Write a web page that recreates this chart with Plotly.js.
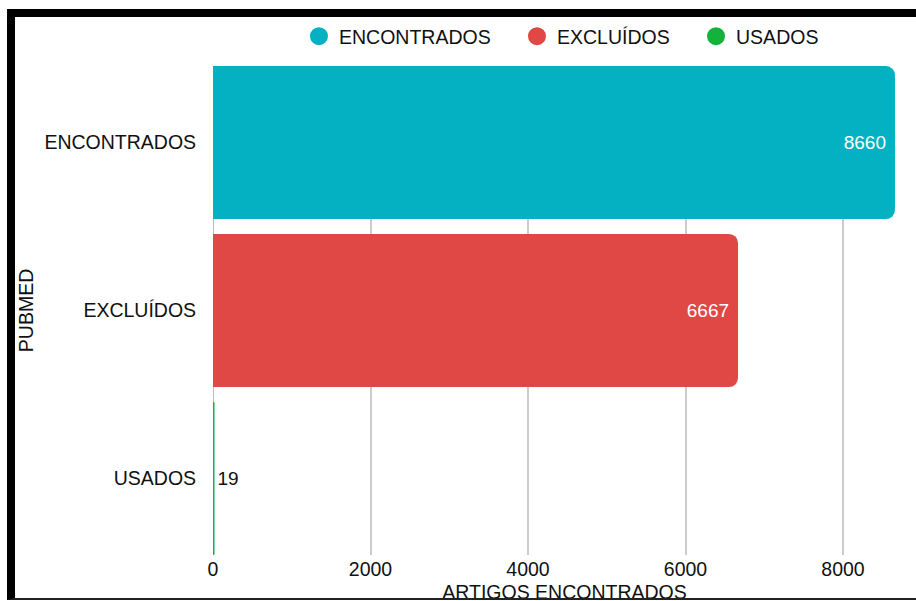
<!DOCTYPE html>
<html>
<head>
<meta charset="utf-8">
<script src="https://cdn.plot.ly/plotly-3.0.1.min.js"></script>
<style>
  html, body { margin: 0; padding: 0; background: #fff; width: 916px; height: 601px; overflow: hidden; }
  #frame {
    position: absolute; left: 7px; top: 9px; width: 909px; height: 591px;
    box-sizing: border-box; overflow: hidden; background: #fff;
    border-left: 8px solid #000; border-top: 8px solid #000; border-bottom: 2px solid #222;
  }
  #chart { width: 901px; height: 600px; }
</style>
</head>
<body>
<div id="frame"><div id="chart"></div></div>
<script>
// PubMed article counts by stage
const categories = ['ENCONTRADOS', 'EXCLUÍDOS', 'USADOS'];
const counts = [8660, 6667, 19];
const colors = ['#03b1c3', '#e04845', '#13b23c'];
const xTicks = [0, 2000, 4000, 6000, 8000];

const FONT = 'Liberation Sans, Arial, sans-serif';
const FS = 19.5;

const bars = {
  type: 'bar',
  orientation: 'h',
  y: categories,
  x: counts,
  marker: { color: colors },
  text: counts.map(String),
  textposition: 'auto',
  insidetextanchor: 'end',
  insidetextfont: { color: '#ffffff', size: 19, family: FONT },
  outsidetextfont: { color: '#111111', size: 19, family: FONT },
  cliponaxis: false,
  showlegend: false,
  hoverinfo: 'x+y'
};

// Legend-only entries with round swatches, one legend per entry
const legendNames = ['legend', 'legend2', 'legend3'];
const legendTraces = categories.map((c, i) => ({
  type: 'scatter',
  mode: 'markers',
  x: [null], y: [null],
  name: c,
  legend: legendNames[i],
  marker: { color: colors[i], size: 16, symbol: 'circle', line: { color: colors[i], width: 2 } },
  showlegend: true,
  hoverinfo: 'skip'
}));

const legendBase = {
  orientation: 'h', yanchor: 'middle', xanchor: 'left', y: 1.0613,
  bgcolor: 'rgba(0,0,0,0)', borderwidth: 0,
  font: { family: FONT, size: FS, color: '#111' }
};

// The chart runs a little past the framed area; the frame clips the bottom edge.
const layout = {
  width: 901, height: 600,
  margin: { l: 198, r: 0, t: 49, b: 62, pad: 0 },
  paper_bgcolor: '#ffffff', plot_bgcolor: '#ffffff',
  font: { family: FONT, size: FS, color: '#111' },
  barcornerradius: 9,
  bargap: 0.089,
  legend:  Object.assign({}, legendBase, { x: 0.1223 }),
  legend2: Object.assign({}, legendBase, { x: 0.4324 }),
  legend3: Object.assign({}, legendBase, { x: 0.6871 }),
  xaxis: {
    range: [0, 8927],
    tickvals: xTicks,
    ticktext: xTicks.map(String),
    showgrid: true, gridcolor: '#cccccc', gridwidth: 2,
    zeroline: true, zerolinecolor: '#bbbbbb', zerolinewidth: 1,
    showline: false, ticks: '',
    tickfont: { family: FONT, size: FS, color: '#111' },
    title: { text: 'ARTIGOS ENCONTRADOS', font: { family: FONT, size: FS, color: '#111' }, standoff: 6 },
    automargin: false, fixedrange: true
  },
  yaxis: {
    type: 'category',
    categoryorder: 'array', categoryarray: categories,
    range: [2.4555, -0.4555],
    showgrid: false, zeroline: false, showline: false,
    ticks: 'outside', ticklen: 12, tickcolor: 'rgba(0,0,0,0)',
    tickfont: { family: FONT, size: FS, color: '#111' },
    title: { text: 'PUBMED', font: { family: FONT, size: FS, color: '#111' }, standoff: 8 },
    automargin: false, fixedrange: true
  }
};

Plotly.newPlot('chart', [bars].concat(legendTraces), layout, { displayModeBar: false, staticPlot: true });
</script>
</body>
</html>
